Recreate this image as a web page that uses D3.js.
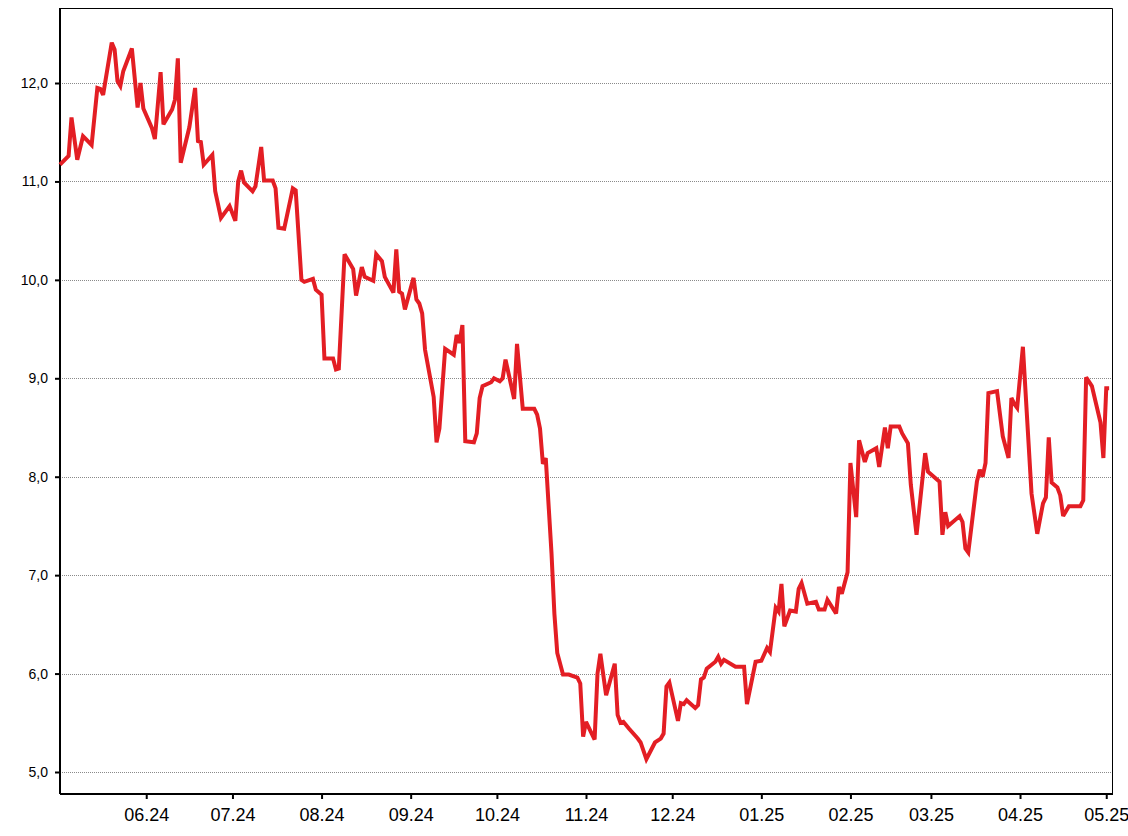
<!DOCTYPE html>
<html>
<head>
<meta charset="utf-8">
<script src="https://cdn.jsdelivr.net/npm/d3@7"></script>
<style>
  html, body { margin: 0; padding: 0; background: #fff; }
  svg { display: block; }
  .ylab { font-family: "Liberation Sans", Arial, sans-serif; font-size: 14px; fill: #000; }
  .xlab { font-family: "Liberation Sans", Arial, sans-serif; font-size: 18px; fill: #000; }
</style>
</head>
<body>
<svg id="chart" width="1128" height="836"></svg>
<script>
// ---- data ----
const dates = [
  "2024-05-02","2024-05-05","2024-05-06","2024-05-08","2024-05-10","2024-05-13","2024-05-15","2024-05-16","2024-05-17","2024-05-20",
  "2024-05-21","2024-05-22","2024-05-23","2024-05-24","2024-05-27","2024-05-29","2024-05-30","2024-05-31","2024-06-03","2024-06-04",
  "2024-06-06","2024-06-07","2024-06-10","2024-06-11","2024-06-12","2024-06-13","2024-06-16","2024-06-18","2024-06-19","2024-06-20",
  "2024-06-21","2024-06-24","2024-06-25","2024-06-27","2024-06-30","2024-07-02","2024-07-03","2024-07-04","2024-07-05","2024-07-08",
  "2024-07-09","2024-07-11","2024-07-12","2024-07-15","2024-07-16","2024-07-17","2024-07-19","2024-07-22","2024-07-23","2024-07-25",
  "2024-07-26","2024-07-29","2024-07-30","2024-08-01","2024-08-02","2024-08-05","2024-08-06","2024-08-07","2024-08-09","2024-08-12",
  "2024-08-13","2024-08-15","2024-08-16","2024-08-19","2024-08-20","2024-08-22","2024-08-23","2024-08-26","2024-08-27","2024-08-28",
  "2024-08-29","2024-08-30","2024-09-02","2024-09-03","2024-09-04","2024-09-05","2024-09-06","2024-09-09","2024-09-10","2024-09-11",
  "2024-09-13","2024-09-16","2024-09-17","2024-09-18","2024-09-19","2024-09-20","2024-09-23","2024-09-24","2024-09-25","2024-09-26",
  "2024-09-29","2024-09-30","2024-10-02","2024-10-03","2024-10-04","2024-10-07","2024-10-08","2024-10-10","2024-10-14","2024-10-15",
  "2024-10-16","2024-10-17","2024-10-18","2024-10-20","2024-10-21","2024-10-22","2024-10-24","2024-10-26","2024-10-29","2024-10-30",
  "2024-10-31","2024-11-01","2024-11-04","2024-11-05","2024-11-06","2024-11-08","2024-11-11","2024-11-12","2024-11-13","2024-11-14",
  "2024-11-16","2024-11-19","2024-11-20","2024-11-22","2024-11-25","2024-11-27","2024-11-28","2024-11-29","2024-11-30","2024-12-03",
  "2024-12-04","2024-12-05","2024-12-06","2024-12-09","2024-12-10","2024-12-11","2024-12-12","2024-12-13","2024-12-16","2024-12-17",
  "2024-12-18","2024-12-19","2024-12-23","2024-12-26","2024-12-27","2024-12-30","2025-01-01","2025-01-03","2025-01-04","2025-01-06",
  "2025-01-07","2025-01-08","2025-01-09","2025-01-11","2025-01-13","2025-01-14","2025-01-15","2025-01-17","2025-01-20","2025-01-21",
  "2025-01-23","2025-01-24","2025-01-27","2025-01-28","2025-01-29","2025-01-31","2025-02-01","2025-02-03","2025-02-04","2025-02-06",
  "2025-02-07","2025-02-10","2025-02-11","2025-02-13","2025-02-14","2025-02-15","2025-02-18","2025-02-19","2025-02-21","2025-02-22",
  "2025-02-24","2025-02-27","2025-02-28","2025-03-04","2025-03-05","2025-03-06","2025-03-07","2025-03-11","2025-03-12","2025-03-13",
  "2025-03-14","2025-03-17","2025-03-18","2025-03-19","2025-03-20","2025-03-21","2025-03-24","2025-03-26","2025-03-28","2025-03-29",
  "2025-03-30","2025-03-31","2025-04-02","2025-04-05","2025-04-07","2025-04-09","2025-04-10","2025-04-11","2025-04-12","2025-04-14",
  "2025-04-15","2025-04-16","2025-04-18","2025-04-22","2025-04-23","2025-04-24","2025-04-26","2025-04-29","2025-04-30","2025-05-01",
  "2025-05-02"
];
const values = [
  11.17,11.26,11.65,11.22,11.46,11.37,11.95,11.94,11.88,12.41,
  12.34,12.02,11.97,12.12,12.35,11.75,12.00,11.74,11.54,11.43,
  12.11,11.58,11.73,11.83,12.25,11.19,11.55,11.95,11.41,11.40,
  11.17,11.27,10.90,10.63,10.75,10.60,11.00,11.11,10.99,10.90,
  10.95,11.35,11.01,11.01,10.93,10.53,10.52,10.93,10.91,10.00,
  9.98,10.01,9.90,9.85,9.20,9.20,9.09,9.10,10.26,10.11,
  9.84,10.13,10.03,9.99,10.26,10.19,10.03,9.87,10.31,9.88,
  9.86,9.70,10.02,9.80,9.76,9.66,9.29,8.81,8.35,8.49,
  9.30,9.24,9.44,9.36,9.54,8.36,8.35,8.44,8.80,8.92,
  8.96,9.00,8.97,9.00,9.19,8.79,9.35,8.69,8.69,8.63,
  8.49,8.13,8.19,7.22,6.61,6.21,5.99,5.99,5.96,5.90,
  5.36,5.51,5.33,6.00,6.20,5.78,6.10,5.58,5.50,5.51,
  5.44,5.34,5.30,5.13,5.30,5.34,5.39,5.87,5.91,5.52,
  5.70,5.69,5.73,5.65,5.68,5.94,5.96,6.05,6.12,6.17,
  6.10,6.14,6.07,6.07,5.69,6.12,6.13,6.26,6.22,6.67,
  6.63,6.91,6.48,6.64,6.63,6.86,6.92,6.71,6.73,6.65,
  6.65,6.75,6.61,6.88,6.81,7.03,8.14,7.59,8.37,8.15,
  8.24,8.29,8.10,8.50,8.29,8.51,8.51,8.44,8.34,7.92,
  7.41,8.24,8.05,7.95,7.41,7.64,7.50,7.60,7.54,7.27,
  7.23,7.95,8.07,8.00,8.14,8.85,8.87,8.41,8.19,8.80,
  8.74,8.70,9.32,7.83,7.42,7.73,7.79,8.40,7.94,7.89,
  7.81,7.60,7.70,7.70,7.76,9.01,8.92,8.55,8.19,8.90,
  8.90
];
const yTicks = [5, 6, 7, 8, 9, 10, 11, 12];
const xTickDates = ["2024-06-01","2024-07-01","2024-08-01","2024-09-01","2024-10-01","2024-11-01",
                    "2024-12-01","2025-01-01","2025-02-01","2025-03-01","2025-04-01","2025-05-01"];
const xTickLabels = ["06.24","07.24","08.24","09.24","10.24","11.24","12.24","01.25","02.25","03.25","04.25","05.25"];

// ---- layout ----
const parse = d3.timeParse("%Y-%m-%d");
const data = dates.map((d, i) => ({ date: parse(d), value: values[i] }));
const L = 60, R = 1112, T = 8, B = 794;

const x = d3.scaleTime()
  .domain([parse("2024-05-02"), parse("2025-05-03")])
  .range([L, R]);
const y = d3.scaleLinear()
  .domain([4.7765, 12.762])
  .range([B, T]);

const svg = d3.select("#chart");

// gridlines
svg.append("g")
  .selectAll("line")
  .data(yTicks)
  .join("line")
  .attr("x1", L).attr("x2", R)
  .attr("y1", d => Math.round(y(d)) + 0.5)
  .attr("y2", d => Math.round(y(d)) + 0.5)
  .attr("stroke", "#8a8a8a")
  .attr("stroke-width", 1)
  .attr("stroke-dasharray", "1,1");

// frame (top & right)
svg.append("path")
  .attr("d", `M${L},${T + 0.5}H${R + 0.5}V${B}`)
  .attr("fill", "none")
  .attr("stroke", "#000")
  .attr("stroke-width", 1);

// y axis
const yAxis = d3.axisLeft(y)
  .tickValues(yTicks)
  .tickSize(5)
  .tickPadding(7)
  .tickFormat(d => d3.format(".1f")(d).replace(".", ","));
const gy = svg.append("g")
  .attr("transform", `translate(${L},0)`)
  .call(yAxis);
gy.select(".domain").attr("stroke", "#000").attr("stroke-width", 2)
  .attr("d", `M0,${T}V${B}`);
gy.selectAll(".tick line").attr("stroke", "#000").attr("stroke-width", 2);
gy.selectAll(".tick text").attr("class", "ylab").attr("font-family", null).attr("font-size", null);

// x axis
const xAxis = d3.axisBottom(x)
  .tickValues(xTickDates.map(parse))
  .tickSize(5)
  .tickPadding(9)
  .tickFormat((d, i) => xTickLabels[i]);
const gx = svg.append("g")
  .attr("transform", `translate(0,${B})`)
  .call(xAxis);
gx.select(".domain").attr("stroke", "#000").attr("stroke-width", 2)
  .attr("d", `M${L},0H${R + 1}`);
gx.selectAll(".tick line").attr("stroke", "#000").attr("stroke-width", 2);
gx.selectAll(".tick text").attr("class", "xlab").attr("font-family", null).attr("font-size", null);

// series line
const line = d3.line()
  .x(d => x(d.date))
  .y(d => y(d.value));
svg.append("path")
  .datum(data)
  .attr("fill", "none")
  .attr("stroke", "#e31e24")
  .attr("stroke-width", 4)
  .attr("stroke-linejoin", "miter")
  .attr("stroke-miterlimit", 3)
  .attr("d", line);
</script>
</body>
</html>
